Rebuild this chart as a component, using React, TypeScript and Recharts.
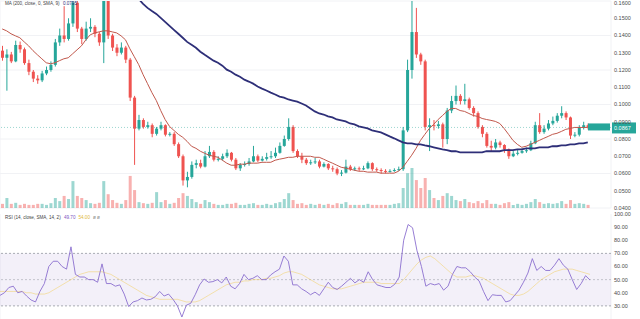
import React from 'react';
import {
  ComposedChart, Bar, Line, XAxis, YAxis, CartesianGrid, ReferenceLine, ReferenceArea, Cell,
} from 'recharts';

// candles
const opens = [
  0.1312, 0.1271, 0.1290, 0.1250, 0.1345, 0.1320, 0.1240, 0.1190, 0.1150, 0.1140,
  0.1180, 0.1200, 0.1230, 0.1360, 0.1400, 0.1380, 0.1470, 0.1590, 0.1440, 0.1380,
  0.1440, 0.1450, 0.1410, 0.1360, 0.1600, 0.1400, 0.1330, 0.1300, 0.1330, 0.1260,
  0.1040, 0.0860, 0.0910, 0.0870, 0.0880, 0.0830, 0.0860, 0.0880, 0.0825, 0.0830,
  0.0770, 0.0700, 0.0560, 0.0580, 0.0650, 0.0660, 0.0640, 0.0700, 0.0725, 0.0680,
  0.0685, 0.0700, 0.0720, 0.0680, 0.0630, 0.0650, 0.0655, 0.0670, 0.0700, 0.0675,
  0.0685, 0.0695, 0.0700, 0.0720, 0.0760, 0.0800, 0.0870, 0.0730, 0.0700, 0.0680,
  0.0660, 0.0665, 0.0670, 0.0640, 0.0655, 0.0630, 0.0625, 0.0600, 0.0605, 0.0640,
  0.0625, 0.0630, 0.0625, 0.0630, 0.0660, 0.0625, 0.0620, 0.0615, 0.0610, 0.0615,
  0.0620, 0.0625, 0.0850, 0.1200, 0.1420, 0.1290, 0.1250, 0.0870, 0.0880, 0.0875,
  0.0885, 0.0800, 0.0965, 0.1020, 0.1050, 0.1020, 0.1030, 0.0980, 0.0950, 0.0870,
  0.0830, 0.0760, 0.0750, 0.0780, 0.0765, 0.0740, 0.0700, 0.0715, 0.0720, 0.0730,
  0.0735, 0.0775, 0.0880, 0.0840, 0.0860, 0.0890, 0.0905, 0.0935, 0.0950, 0.0925,
  0.0820, 0.0825, 0.0865, 0.0880,
];
const highs = [
  0.1340, 0.1320, 0.1305, 0.1370, 0.1365, 0.1330, 0.1260, 0.1200, 0.1170, 0.1195,
  0.1220, 0.1250, 0.1380, 0.1440, 0.1570, 0.1500, 0.1620, 0.1600, 0.1450, 0.1480,
  0.1500, 0.1460, 0.1420, 0.1620, 0.1610, 0.1410, 0.1350, 0.1360, 0.1340, 0.1270,
  0.1050, 0.0940, 0.0920, 0.0900, 0.0890, 0.0870, 0.0900, 0.0885, 0.0840, 0.0840,
  0.0780, 0.0710, 0.0610, 0.0670, 0.0680, 0.0680, 0.0730, 0.0760, 0.0735, 0.0700,
  0.0715, 0.0740, 0.0725, 0.0690, 0.0660, 0.0670, 0.0690, 0.0760, 0.0710, 0.0700,
  0.0720, 0.0730, 0.0750, 0.0780, 0.0820, 0.0920, 0.0880, 0.0740, 0.0720, 0.0690,
  0.0680, 0.0690, 0.0680, 0.0665, 0.0660, 0.0645, 0.0635, 0.0620, 0.0680, 0.0650,
  0.0640, 0.0640, 0.0645, 0.0670, 0.0665, 0.0635, 0.0630, 0.0625, 0.0625, 0.0630,
  0.0640, 0.0870, 0.1260, 0.1600, 0.1560, 0.1300, 0.1260, 0.0920, 0.0910, 0.0905,
  0.0895, 0.0980, 0.1050, 0.1110, 0.1060, 0.1120, 0.1040, 0.0990, 0.0960, 0.0880,
  0.0840, 0.0790, 0.0800, 0.0790, 0.0770, 0.0745, 0.0730, 0.0740, 0.0745, 0.0750,
  0.0790, 0.0900, 0.0950, 0.0880, 0.0910, 0.0930, 0.0950, 0.0990, 0.0960, 0.0930,
  0.0840, 0.0880, 0.0900, 0.0890,
];
const lows = [
  0.1254, 0.1080, 0.1240, 0.1245, 0.1300, 0.1230, 0.1170, 0.1130, 0.1120, 0.1130,
  0.1170, 0.1190, 0.1220, 0.1340, 0.1360, 0.1370, 0.1450, 0.1420, 0.1350, 0.1370,
  0.1420, 0.1390, 0.1340, 0.1240, 0.1380, 0.1310, 0.1280, 0.1290, 0.1240, 0.1020,
  0.0650, 0.0850, 0.0860, 0.0860, 0.0810, 0.0820, 0.0850, 0.0815, 0.0815, 0.0760,
  0.0690, 0.0530, 0.0520, 0.0570, 0.0630, 0.0630, 0.0635, 0.0690, 0.0670, 0.0670,
  0.0675, 0.0690, 0.0670, 0.0620, 0.0615, 0.0640, 0.0645, 0.0665, 0.0665, 0.0670,
  0.0675, 0.0685, 0.0690, 0.0715, 0.0755, 0.0790, 0.0720, 0.0690, 0.0660, 0.0650,
  0.0650, 0.0655, 0.0630, 0.0635, 0.0620, 0.0610, 0.0590, 0.0585, 0.0600, 0.0615,
  0.0615, 0.0615, 0.0620, 0.0625, 0.0615, 0.0610, 0.0600, 0.0600, 0.0605, 0.0610,
  0.0615, 0.0615, 0.0840, 0.1150, 0.1270, 0.1230, 0.0850, 0.0730, 0.0850, 0.0860,
  0.0750, 0.0770, 0.0950, 0.1000, 0.1000, 0.1000, 0.0970, 0.0930, 0.0860, 0.0810,
  0.0750, 0.0730, 0.0740, 0.0750, 0.0720, 0.0685, 0.0695, 0.0705, 0.0715, 0.0720,
  0.0730, 0.0770, 0.0830, 0.0830, 0.0850, 0.0880, 0.0895, 0.0920, 0.0910, 0.0800,
  0.0810, 0.0815, 0.0855, 0.0855,
];
const closes = [
  0.1271, 0.1290, 0.1250, 0.1345, 0.1320, 0.1240, 0.1190, 0.1150, 0.1140, 0.1180,
  0.1200, 0.1230, 0.1360, 0.1400, 0.1380, 0.1470, 0.1590, 0.1440, 0.1380, 0.1440,
  0.1450, 0.1410, 0.1360, 0.1600, 0.1400, 0.1330, 0.1300, 0.1330, 0.1260, 0.1040,
  0.0860, 0.0910, 0.0870, 0.0880, 0.0830, 0.0860, 0.0880, 0.0825, 0.0830, 0.0770,
  0.0700, 0.0560, 0.0580, 0.0650, 0.0660, 0.0640, 0.0700, 0.0725, 0.0680, 0.0685,
  0.0700, 0.0720, 0.0680, 0.0630, 0.0650, 0.0655, 0.0670, 0.0700, 0.0675, 0.0685,
  0.0695, 0.0700, 0.0720, 0.0760, 0.0800, 0.0870, 0.0730, 0.0700, 0.0680, 0.0660,
  0.0665, 0.0670, 0.0640, 0.0655, 0.0630, 0.0625, 0.0600, 0.0605, 0.0640, 0.0625,
  0.0630, 0.0625, 0.0630, 0.0660, 0.0625, 0.0620, 0.0615, 0.0610, 0.0615, 0.0620,
  0.0625, 0.0850, 0.1200, 0.1420, 0.1290, 0.1250, 0.0870, 0.0880, 0.0875, 0.0885,
  0.0800, 0.0965, 0.1020, 0.1050, 0.1020, 0.1030, 0.0980, 0.0950, 0.0870, 0.0830,
  0.0760, 0.0750, 0.0780, 0.0765, 0.0740, 0.0700, 0.0715, 0.0720, 0.0730, 0.0735,
  0.0775, 0.0880, 0.0840, 0.0860, 0.0890, 0.0905, 0.0935, 0.0950, 0.0925, 0.0820,
  0.0825, 0.0865, 0.0880, 0.0867,
];
// volume in millions
const volumes = [
  12, 29, 12, 15, 9, 12, 9, 9, 12, 12,
  9, 14, 29, 20, 35, 26, 78, 35, 29, 23,
  14, 12, 15, 78, 40, 23, 15, 12, 23, 93,
  52, 17, 14, 12, 15, 46, 17, 23, 12, 15,
  29, 43, 35, 26, 17, 12, 23, 17, 12, 9,
  9, 12, 12, 15, 9, 9, 12, 14, 9, 9,
  12, 9, 14, 17, 26, 43, 23, 12, 14, 9,
  12, 9, 12, 9, 12, 9, 14, 12, 17, 9,
  9, 9, 9, 12, 9, 9, 9, 9, 9, 12,
  14, 58, 101, 116, 81, 58, 87, 52, 29, 23,
  35, 43, 35, 23, 20, 26, 17, 14, 20, 14,
  23, 12, 12, 9, 14, 17, 9, 12, 9, 12,
  17, 26, 17, 12, 14, 12, 14, 20, 12, 23,
  12, 14, 12, 9,
];
const maShort = [
  0.1438, 0.1427, 0.1410, 0.1398, 0.1387, 0.1363, 0.1340, 0.1312, 0.1288, 0.1265,
  0.1242, 0.1236, 0.1242, 0.1254, 0.1265, 0.1271, 0.1294, 0.1317, 0.1340, 0.1375,
  0.1404, 0.1415, 0.1421, 0.1427, 0.1427, 0.1421, 0.1415, 0.1398, 0.1375, 0.1323,
  0.1277, 0.1231, 0.1173, 0.1121, 0.1069, 0.1023, 0.0965, 0.0913, 0.0873, 0.0850,
  0.0827, 0.0810, 0.0786, 0.0758, 0.0746, 0.0729, 0.0717, 0.0706, 0.0700, 0.0694,
  0.0677, 0.0660, 0.0648, 0.0648, 0.0654, 0.0654, 0.0660, 0.0660, 0.0660, 0.0665,
  0.0665, 0.0665, 0.0677, 0.0683, 0.0688, 0.0694, 0.0694, 0.0700, 0.0700, 0.0700,
  0.0700, 0.0694, 0.0694, 0.0683, 0.0671, 0.0660, 0.0648, 0.0636, 0.0631, 0.0625,
  0.0619, 0.0613, 0.0613, 0.0608, 0.0608, 0.0608, 0.0602, 0.0602, 0.0602, 0.0602,
  0.0613, 0.0636, 0.0671, 0.0706, 0.0746, 0.0792, 0.0827, 0.0861, 0.0885, 0.0913,
  0.0936, 0.0960, 0.0977, 0.0977, 0.0965, 0.0960, 0.0948, 0.0936, 0.0931, 0.0919,
  0.0913, 0.0908, 0.0902, 0.0890, 0.0861, 0.0827, 0.0792, 0.0769, 0.0752, 0.0758,
  0.0769, 0.0781, 0.0792, 0.0804, 0.0815, 0.0827, 0.0833, 0.0844, 0.0856, 0.0861,
  0.0867, 0.0867, 0.0867, 0.0867,
];
// MA 200 is above the pane before candle 30
const ma200Start = 30;
const ma200 = [
  0.1635, 0.1612, 0.1583, 0.1560, 0.1542, 0.1525, 0.1502, 0.1479, 0.1456, 0.1433,
  0.1410, 0.1387, 0.1363, 0.1346, 0.1329, 0.1306, 0.1288, 0.1271, 0.1254, 0.1242,
  0.1225, 0.1202, 0.1190, 0.1173, 0.1161, 0.1144, 0.1133, 0.1121, 0.1104, 0.1092,
  0.1081, 0.1069, 0.1058, 0.1046, 0.1040, 0.1029, 0.1023, 0.1017, 0.1006, 0.0994,
  0.0977, 0.0960, 0.0948, 0.0942, 0.0931, 0.0925, 0.0913, 0.0908, 0.0902, 0.0890,
  0.0885, 0.0873, 0.0867, 0.0861, 0.0850, 0.0844, 0.0838, 0.0827, 0.0815, 0.0804,
  0.0792, 0.0781, 0.0775, 0.0775, 0.0769, 0.0769, 0.0763, 0.0758, 0.0752, 0.0746,
  0.0740, 0.0735, 0.0729, 0.0729, 0.0723, 0.0723, 0.0723, 0.0723, 0.0723, 0.0723,
  0.0729, 0.0729, 0.0729, 0.0729, 0.0735, 0.0735, 0.0735, 0.0740, 0.0740, 0.0746,
  0.0746, 0.0746, 0.0752, 0.0752, 0.0752, 0.0758, 0.0758, 0.0763, 0.0763, 0.0769,
  0.0769, 0.0775, 0.0775, 0.0781,
];
const rsi = [
  38, 40, 44, 45, 40, 41, 37.5, 34.5, 33, 41,
  47, 60, 64, 64, 60, 58, 75, 54, 52, 52,
  50, 50, 48, 62, 47, 47, 45, 46, 39, 29.5,
  33, 34, 36, 34.5, 35, 37, 41, 37.5, 39, 35,
  30, 21.5, 30.5, 32, 38.5, 46, 50.5, 48, 48.5, 50,
  47.5, 52, 45, 43, 47, 54, 50, 51, 53, 50,
  50, 53.5, 56, 58, 68, 64, 46, 46, 43, 41,
  38.5, 40.5, 38, 43, 48, 44, 42.5, 45, 48, 51,
  47.5, 50, 48, 56, 50, 46, 45, 44, 44, 46.5,
  52, 80, 92, 89.5, 72, 60, 45, 47, 46, 47,
  42, 45, 54, 60, 59, 59, 56, 52, 49, 41,
  34, 38.5, 38, 38, 33, 34, 38, 42, 48, 55,
  66, 57, 60, 57, 57, 61, 66, 61, 58, 50,
  42.5, 47, 53, 49.7,
];
const rsiMa = [
  41, 41, 41, 41, 41, 41, 40, 40, 39, 39,
  39, 40, 42, 44, 46, 48, 50, 52, 54, 55,
  56, 56, 56, 56, 55, 54, 52, 50, 48, 46,
  44, 42, 40, 38, 37, 36, 35, 35, 35, 35,
  35, 34, 33, 33, 33, 34, 36, 38, 40, 42,
  44, 46, 47, 48, 48, 49, 49, 50, 50, 50,
  51, 51, 52, 53, 55, 56, 56, 55, 54, 52,
  50, 48, 46, 45, 44, 43, 43, 43, 44, 45,
  46, 47, 48, 48, 48, 48, 47, 47, 47, 47,
  47, 50, 54, 58, 62, 65, 67, 68, 66, 63,
  60, 57, 54, 52, 52, 52, 53, 53, 52, 51,
  49, 47, 45, 43, 41, 39, 38, 38, 39, 41,
  44, 47, 50, 52, 54, 56, 57, 58, 58, 58,
  57, 56, 55, 54,
];
const priceTicks = [0.04, 0.05, 0.06, 0.07, 0.08, 0.09, 0.10, 0.11, 0.12, 0.13, 0.14, 0.15, 0.16];
const rsiTicks = [20, 30, 40, 50, 60, 70, 80, 90, 100];
const gridTicks = [14, 36, 59, 82, 104, 127];

const UP = '#26a69a';
const DOWN = '#ef5350';
const AXIS_W = 29;
const PAD_R = 21;
const FONT = "'Liberation Sans', Arial, sans-serif";

const data = closes.map((c, i) => ({
  i,
  o: opens[i],
  h: highs[i],
  l: lows[i],
  c,
  vol: volumes[i],
  maShort: maShort[i],
  ma200: i >= ma200Start ? ma200[i - ma200Start] : null,
  rsi: rsi[i],
  rsiMa: rsiMa[i],
}));
const last = data[data.length - 1];

const Candle = (props: any) => {
  const { x, y, width, height, payload } = props;
  if (x == null || y == null) return null;
  const top = Math.min(y, y + height);
  const h = Math.abs(height);
  const span = payload.h - payload.l || 1e-9;
  const py = (v: number) => top + ((payload.h - v) / span) * h;
  const color = payload.c >= payload.o ? UP : DOWN;
  const cx = x + width / 2;
  const bTop = py(Math.max(payload.o, payload.c));
  const bBot = py(Math.min(payload.o, payload.c));
  return (
    <g>
      <line x1={cx} x2={cx} y1={top} y2={top + h} stroke={color} strokeWidth={1} />
      <rect x={x} y={bTop} width={width} height={Math.max(1, bBot - bTop)} fill={color} />
    </g>
  );
};

const PriceTag = (props: any) => {
  const vb = props.viewBox;
  if (!vb) return null;
  const right = vb.x + vb.width;
  return (
    <g>
      <rect x={right - 23} y={vb.y - 4} width={22} height={7} fill={UP} />
      <rect x={right + 1} y={vb.y - 5} width={24} height={11} fill={UP} />
      <text x={right + 3} y={vb.y + 1} fill="#fff" fontSize={5.5} fontFamily={FONT} dominantBaseline="middle">
        {last.c.toFixed(4)}
      </text>
    </g>
  );
};

const tickStyle = { fill: '#4a4a4a', fontSize: 5.5, fontFamily: FONT };

export default function App() {
  return (
    <div style={{ position: 'fixed', left: 0, top: 0, width: 640, height: 319, background: '#fff', overflow: 'hidden', fontFamily: FONT }}>
      <div style={{ position: 'absolute', left: 0, top: 0 }}>
        <ComposedChart width={640} height={216} data={data} margin={{ top: 1, right: 0, left: 0, bottom: 8 }}>
          <CartesianGrid stroke="#f1f2f5" />
          <XAxis dataKey="i" ticks={gridTicks} tick={false} axisLine={false} tickLine={false} height={0} padding={{ left: 0, right: PAD_R }} />
          <XAxis xAxisId="v" dataKey="i" hide padding={{ left: 0, right: PAD_R }} />
          <YAxis
            orientation="right" width={AXIS_W} domain={[0.04, 0.16]} ticks={priceTicks} allowDataOverflow
            tickFormatter={(v: number) => v.toFixed(4)} tick={tickStyle} axisLine={false} tickLine={false} tickSize={0} tickMargin={3}
          />
          <YAxis yAxisId="v" hide domain={[0, 600]} />
          <Bar xAxisId="v" yAxisId="v" dataKey="vol" barSize={3} isAnimationActive={false}>
            {data.map((d, idx) => (
              <Cell key={`v-${idx}`} fill={d.c >= d.o ? UP : DOWN} fillOpacity={0.45} />
            ))}
          </Bar>
          <ReferenceLine y={last.c} stroke={UP} strokeOpacity={0.45} strokeDasharray="1 2" label={<PriceTag />} />
          <Bar dataKey={(d: any) => [d.l, d.h]} barSize={3} shape={<Candle />} isAnimationActive={false} />
          <Line dataKey="maShort" stroke="#c0584c" strokeWidth={1} dot={false} isAnimationActive={false} />
          <Line dataKey="ma200" stroke="#2e2f78" strokeWidth={1.8} dot={false} isAnimationActive={false} />
        </ComposedChart>
      </div>
      <div style={{ position: 'absolute', left: 0, top: 210 }}>
        <ComposedChart width={640} height={109} data={data} margin={{ top: 4, right: 0, left: 0, bottom: 0 }}>
          <CartesianGrid stroke="#f1f2f5" horizontal={false} />
          <XAxis dataKey="i" ticks={gridTicks} tick={false} axisLine={false} tickLine={false} height={0} padding={{ left: 0, right: PAD_R }} />
          <YAxis
            orientation="right" width={AXIS_W} domain={[20, 100]} ticks={rsiTicks} allowDataOverflow
            tickFormatter={(v: number) => v.toFixed(2)} tick={tickStyle} axisLine={false} tickLine={false} tickSize={0} tickMargin={3}
          />
          <ReferenceArea
            y1={30} y2={70}
            shape={(p: any) => <rect x={p.x} y={p.y} width={p.width + PAD_R} height={p.height} fill="#7e57c2" fillOpacity={0.09} />}
          />
          <ReferenceLine y={70} stroke="#9598a1" strokeDasharray="2 2" strokeOpacity={0.8} />
          <ReferenceLine y={50} stroke="#9598a1" strokeDasharray="2 2" strokeOpacity={0.5} />
          <ReferenceLine y={30} stroke="#9598a1" strokeDasharray="2 2" strokeOpacity={0.8} />
          <Line dataKey="rsiMa" stroke="#f2c94c" strokeOpacity={0.45} strokeWidth={1} dot={false} isAnimationActive={false} />
          <Line dataKey="rsi" stroke="#8b6fcf" strokeWidth={0.9} dot={false} isAnimationActive={false} />
        </ComposedChart>
      </div>
      <div style={{ position: 'absolute', left: 5, top: 1, fontSize: 4.6, color: '#444', whiteSpace: 'nowrap' }}>
        MA (200, close, 0, SMA, 9) <span style={{ color: '#2e2f78', marginLeft: 2 }}>0.0795</span>
      </div>
      <div style={{ position: 'absolute', left: 5, top: 215, fontSize: 4.6, color: '#444', whiteSpace: 'nowrap' }}>
        RSI (14, close, SMA, 14, 2) <span style={{ color: '#7e57c2', marginLeft: 2 }}>{last.rsi.toFixed(2)}</span>
        <span style={{ color: '#e0b83a', marginLeft: 3 }}>{last.rsiMa.toFixed(2)}</span>
        <span style={{ color: '#888', marginLeft: 3 }}>ø ø</span>
      </div>
    </div>
  );
}
